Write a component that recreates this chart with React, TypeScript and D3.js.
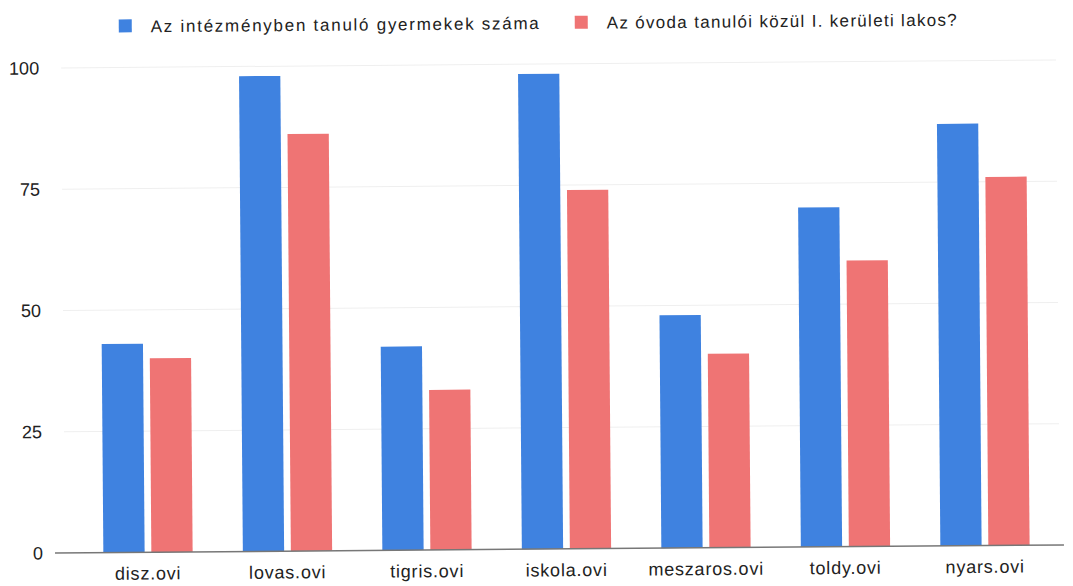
import React from "react";
import * as d3 from "d3";

const categories = ["disz.ovi", "lovas.ovi", "tigris.ovi", "iskola.ovi", "meszaros.ovi", "toldy.ovi", "nyars.ovi"];
const children = [43, 98, 42, 98, 48, 70, 87];
const residents = [40, 86, 33, 74, 40, 59, 76];
const yTicks = [0, 25, 50, 75, 100];
const seriesNames = ["Az intézményben tanuló gyermekek száma", "Az óvoda tanulói közül I. kerületi lakos?"];
const colors = ["#3f82e0", "#ef7474"];

const W = 1073;
const H = 586;
const FONT = "'Liberation Sans', Arial, sans-serif";

export default function App() {
  const x = d3.scaleBand<string>().domain(categories).range([78.25, 1054.75]).paddingInner(0.36).paddingOuter(0.18);
  const xs = d3.scaleBand<number>().domain([0, 1]).range([0, x.bandwidth()]).paddingInner(0.14);
  const y = d3.scaleLinear().domain([0, 100]).range([553, 68]);
  const series = [children, residents];
  const legendX = [123, 579];
  const legendW = [388, 350];
  return (
    <svg width={W} height={H} style={{ position: "absolute", left: 0, top: 0, background: "#fff" }}>
      <rect x={0} y={0} width={W} height={H} fill="#fff" />
      <g transform="rotate(-0.46 55 553)" fontFamily={FONT}>
        {yTicks.map((t) => (
          <g key={t}>
            {t > 0 && <line x1={65} x2={1060} y1={y(t)} y2={y(t)} stroke="#efefef" strokeWidth={1} />}
            <text x={43} y={y(t)} dy="0.35em" textAnchor="end" fontSize={18} fill="#222">
              {t}
            </text>
          </g>
        ))}
        {categories.map((c, i) => (
          <g key={c} transform={`translate(${x(c)},0)`}>
            {series.map((s, j) => (
              <rect key={j} x={xs(j)} width={xs.bandwidth()} y={y(s[i])} height={y(0) - y(s[i])} fill={colors[j]} />
            ))}
            <text x={x.bandwidth() / 2} y={574} textAnchor="middle" fontSize={18} letterSpacing={0.8} fill="#222" dy="0.35em">
              {c}
            </text>
          </g>
        ))}
        <line x1={55} x2={1064} y1={y(0)} y2={y(0)} stroke="#777" strokeWidth={1.5} />
        {seriesNames.map((n, j) => {
          const lx = legendX[j];
          return (
            <g key={n}>
              <rect x={lx} y={20} width={13} height={13} fill={colors[j]} />
              <text x={lx + 32} y={27} dy="0.35em" fontSize={17} fill="#222" textLength={legendW[j]} lengthAdjust="spacing">
                {n}
              </text>
            </g>
          );
        })}
      </g>
    </svg>
  );
}
